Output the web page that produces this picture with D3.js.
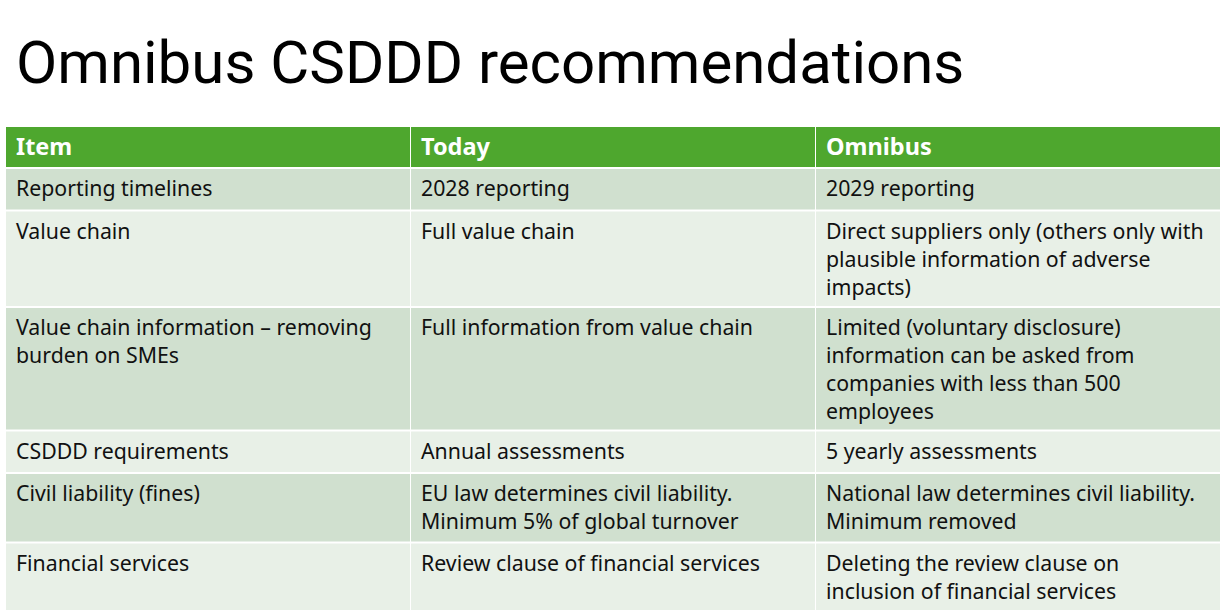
<!DOCTYPE html>
<html>
<head>
<meta charset="utf-8">
<script src="https://cdn.jsdelivr.net/npm/d3@7"></script>
<style>
  html, body { margin: 0; padding: 0; background: #fff; }
  svg { display: block; }
</style>
</head>
<body>
<div id="chart"></div>
<script>
// Omnibus CSDDD table — drawn as svg cells
const title = "Omnibus CSDDD recommendations";
const columns = ["Item", "Today", "Omnibus"];
const itemCol = [
  ["Reporting timelines"],
  ["Value chain"],
  ["Value chain information \u2013 removing", "burden on SMEs"],
  ["CSDDD requirements"],
  ["Civil liability (fines)"],
  ["Financial services"]
];
const todayCol = [
  ["2028 reporting"],
  ["Full value chain"],
  ["Full information from value chain"],
  ["Annual assessments"],
  ["EU law determines civil liability.", "Minimum 5% of global turnover"],
  ["Review clause of financial services"]
];
const omnibusCol = [
  ["2029 reporting"],
  ["Direct suppliers only (others only with", "plausible information of adverse", "impacts)"],
  ["Limited (voluntary disclosure)", "information can be asked from", "companies with less than 500", "employees"],
  ["5 yearly assessments"],
  ["National law determines civil liability.", "Minimum removed"],
  ["Deleting the review clause on", "inclusion of financial services"]
];

const W = 1226, H = 610;
const svg = d3.select("#chart").append("svg").attr("width", W).attr("height", H);

const bodyFont = "Noto Sans, sans-serif";
const lineH = 28, padTop = 27, padX = 10, gap = 2;
const headerTop = 127, headerH = 40;

svg.append("text")
  .attr("x", 16).attr("y", 83)
  .attr("font-family", "Roboto, sans-serif")
  .attr("font-size", 60)
  .attr("fill", "#000")
  .text(title);

const x = d3.scaleBand().domain(columns).range([6, 1220]).paddingInner(0.0025);

// header
const hdr = svg.append("g");
columns.forEach(c => {
  hdr.append("rect")
    .attr("x", x(c)).attr("y", headerTop)
    .attr("width", x.bandwidth()).attr("height", headerH)
    .attr("fill", "#4ea72e");
  hdr.append("text")
    .attr("x", x(c) + padX).attr("y", headerTop + 28)
    .attr("font-family", bodyFont).attr("font-weight", "bold")
    .attr("font-size", 23.5).attr("fill", "#fff")
    .text(c);
});

// body rows — height follows the tallest cell
const rows = itemCol.map((d, i) => [d, todayCol[i], omnibusCol[i]]);
let y0 = headerTop + headerH + gap;
rows.forEach((cells, i) => {
  const n = d3.max(cells, c => c.length);
  const h = n * 27 + 13.5;
  const g = svg.append("g").attr("transform", `translate(0,${y0})`);
  cells.forEach((lines, j) => {
    const c = columns[j];
    g.append("rect")
      .attr("x", x(c)).attr("y", 0)
      .attr("width", x.bandwidth()).attr("height", h)
      .attr("fill", i % 2 === 0 ? "#d0e0cf" : "#e8f0e7");
    g.append("text")
      .attr("font-family", bodyFont).attr("font-size", 21.3).attr("fill", "#111")
      .selectAll("tspan")
      .data(lines)
      .join("tspan")
      .attr("x", x(c) + padX)
      .attr("y", (d, k) => padTop + k * lineH)
      .text(d => d);
  });
  y0 += h + gap;
});
</script>
</body>
</html>
